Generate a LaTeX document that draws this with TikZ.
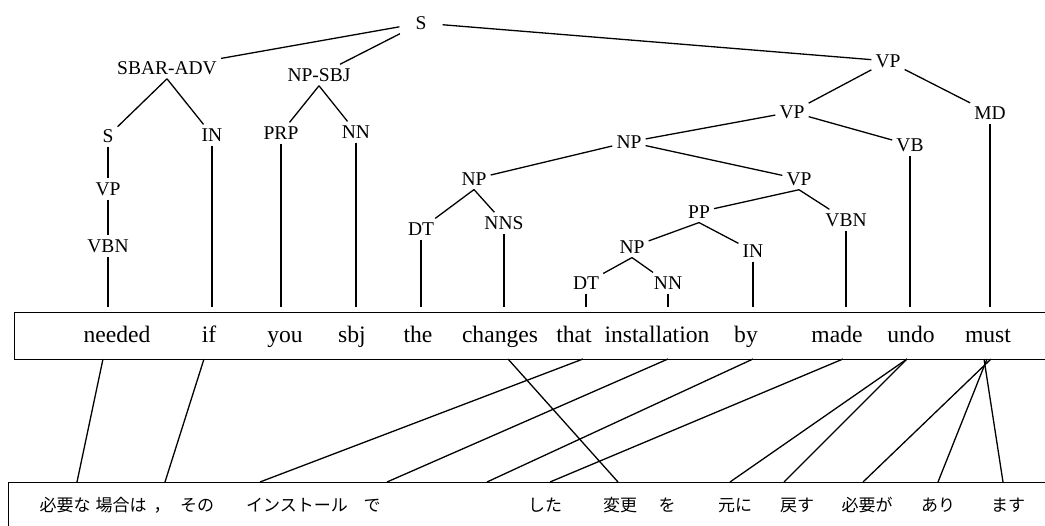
\documentclass[tikz,border=0pt]{standalone}
\usepackage{fontspec}
\setmainfont{Liberation Serif}
\newfontfamily\jpfont{Noto Sans CJK JP}
\begin{document}
\begin{tikzpicture}[x=1pt,y=-1pt,
  lbl/.style={font=\fontsize{19.5}{20}\selectfont, inner sep=4pt},
  wrd/.style={font=\fontsize{23.6}{24}\selectfont, anchor=base, inner sep=0pt},
  jw/.style={font=\jpfont\fontsize{17}{18}\selectfont, anchor=base, inner sep=0pt},
  edge/.style={line width=1.3pt},
  box/.style={draw, line width=1.3pt, inner sep=0pt, anchor=north west},
  link/.style={line width=1.3pt},
]
\useasboundingbox (0,0) rectangle (1045,526);

% boxes
\node[box, minimum width=1060pt, minimum height=47pt] (topbox) at (14,312) {};
\node[box, minimum width=1070pt, minimum height=60pt] (botbox) at (8,482) {};

% tree labels
\node[lbl, inner xsep=16pt] (S0) at (421,23) {S};
\node[lbl] (sbar) at (167,68) {SBAR-ADV};
\node[lbl] (npsbj) at (319,75) {NP-SBJ};
\node[lbl] (vp0) at (888,61) {VP};
\node[lbl] (s1) at (108,136) {S};
\node[lbl] (in1) at (212,135) {IN};
\node[lbl] (prp) at (281,133) {PRP};
\node[lbl] (nn1) at (356,132) {NN};
\node[lbl] (vp1) at (108,189) {VP};
\node[lbl] (vbn1) at (108,246) {VBN};
\node[lbl] (vp2) at (792,112) {VP};
\node[lbl] (md) at (990,113) {MD};
\node[lbl] (np1) at (629,142) {NP};
\node[lbl] (vb) at (910,145) {VB};
\node[lbl] (np2) at (474,179) {NP};
\node[lbl] (vp3) at (799,179) {VP};
\node[lbl] (dt1) at (421,229) {DT};
\node[lbl] (nns) at (504,223) {NNS};
\node[lbl] (pp) at (699,212) {PP};
\node[lbl] (vbn2) at (846,220) {VBN};
\node[lbl] (np3) at (632,247) {NP};
\node[lbl] (in2) at (753,251) {IN};
\node[lbl] (dt2) at (586,283) {DT};
\node[lbl] (nn2) at (668,283) {NN};

% tree edges
\draw[edge] (S0) -- (sbar);
\draw[edge] (S0) -- (npsbj);
\draw[edge] (S0) -- (vp0);
\draw[edge] (sbar.south) -- (s1);
\draw[edge] (sbar.south) -- (in1);
\draw[edge] (npsbj.south) -- (prp);
\draw[edge] (npsbj.south) -- (nn1);
\draw[edge] (vp0) -- (vp2);
\draw[edge] (vp0) -- (md);
\draw[edge] (vp2) -- (np1);
\draw[edge] (vp2) -- (vb);
\draw[edge] (np1) -- (np2);
\draw[edge] (np1) -- (vp3);
\draw[edge] (np2.south) -- (dt1);
\draw[edge] (np2.south) -- (nns);
\draw[edge] (vp3.south) -- (pp);
\draw[edge] (vp3.south) -- (vbn2);
\draw[edge] (pp.south) -- (np3);
\draw[edge] (pp.south) -- (in2);
\draw[edge] (np3.south) -- (dt2);
\draw[edge] (np3.south) -- (nn2);
\draw[edge] (s1) -- (vp1);
\draw[edge] (vp1) -- (vbn1);
\foreach \p in {vbn1,in1,prp,nn1,dt1,nns,dt2,nn2,in2,vbn2,vb,md}
  \draw[edge, shorten >=5pt] (\p.south) -- (\p.south |- topbox.north);

% English words
\node[wrd] (w-needed) at (117,343) {needed};
\node[wrd] (w-if) at (209,343) {if};
\node[wrd] (w-you) at (285,343) {you};
\node[wrd] (w-sbj) at (352,343) {sbj};
\node[wrd] (w-the) at (418,343) {the};
\node[wrd] (w-changes) at (500,343) {changes};
\node[wrd] (w-that) at (574,343) {that};
\node[wrd] (w-installation) at (657,343) {installation};
\node[wrd] (w-by) at (746,343) {by};
\node[wrd] (w-made) at (837,343) {made};
\node[wrd] (w-undo) at (911,343) {undo};
\node[wrd] (w-must) at (988,343) {must};

% Japanese words
\node[jw] (j1) at (65,512) {必要な};
\node[jw] (j2) at (121,512) {場合は};
\node[jw] (j3) at (162,512) {，};
\node[jw] (j4) at (197,512) {その};
\node[jw] (j5) at (297,512) {インストール};
\node[jw] (j6) at (372,512) {で};
\node[jw] (j7) at (545,512) {した};
\node[jw] (j8) at (620,512) {変更};
\node[jw] (j9) at (667,512) {を};
\node[jw] (j10) at (735,512) {元に};
\node[jw] (j11) at (797,512) {戻す};
\node[jw] (j12) at (867,512) {必要が};
\node[jw] (j13) at (938,512) {あり};
\node[jw] (j14) at (1008,512) {ます};

% alignment end points
\coordinate (t-needed) at (103,359);
\coordinate (t-if) at (204,359);
\coordinate (t-changes) at (508,359);
\coordinate (t-that) at (583,359);
\coordinate (t-installation) at (668,359);
\coordinate (t-by) at (753,359);
\coordinate (t-made) at (843,359);
\coordinate (t-undo) at (907,359);
\coordinate (t-must1) at (991,359);
\coordinate (t-must2) at (987,359);
\coordinate (t-must3) at (984,359);
\coordinate (b-j1) at (77,482);
\coordinate (b-j2) at (165,482);
\coordinate (b-j4) at (260,482);
\coordinate (b-j5) at (387,482);
\coordinate (b-j6) at (487,482);
\coordinate (b-j7) at (550,482);
\coordinate (b-j8) at (618,482);
\coordinate (b-j10) at (730,482);
\coordinate (b-j11) at (784,482);
\coordinate (b-j12) at (863,482);
\coordinate (b-j13) at (938,482);
\coordinate (b-j14) at (1003,482);

\draw[link] (t-needed) -- (b-j1);
\draw[link] (t-if) -- (b-j2);
\draw[link] (t-that) -- (b-j4);
\draw[link] (t-installation) -- (b-j5);
\draw[link] (t-by) -- (b-j6);
\draw[link] (t-made) -- (b-j7);
\draw[link] (t-changes) -- (b-j8);
\draw[link] (t-undo) -- (b-j10);
\draw[link] (t-undo) -- (b-j11);
\draw[link] (t-must1) -- (b-j12);
\draw[link] (t-must2) -- (b-j13);
\draw[link] (t-must3) -- (b-j14);
\end{tikzpicture}
\end{document}
